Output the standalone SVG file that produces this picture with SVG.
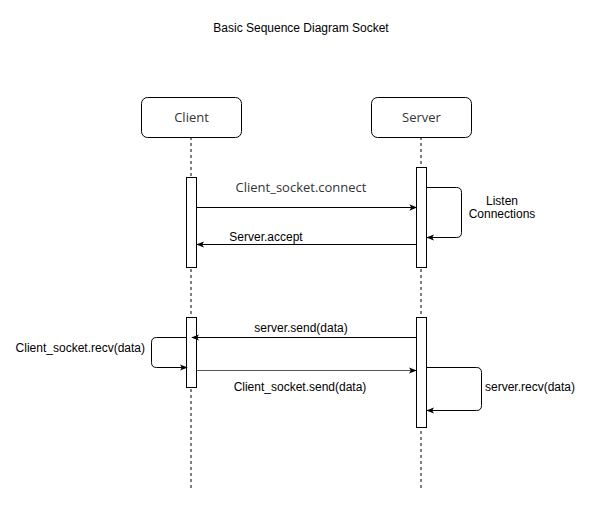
<svg xmlns="http://www.w3.org/2000/svg" width="616" height="511" viewBox="0 0 616 511">
<defs>
<marker id="arr" viewBox="0 0 10 10" refX="9" refY="5" markerWidth="8" markerHeight="8" markerUnits="userSpaceOnUse" orient="auto">
<path d="M0,1 L10,5 L0,9 L2.5,5 Z" fill="#000"/>
</marker>
<style>
.box{fill:#fff;stroke:#000;stroke-width:1}
.life{stroke:#000;stroke-width:1;stroke-dasharray:3 3;fill:none}
.act{fill:#fff;stroke:#000;stroke-width:1}
.msg{stroke:#000;stroke-width:1;fill:none;marker-end:url(#arr)}
.t1{font-family:"Open Sans","DejaVu Sans",sans-serif;font-size:13px;fill:#333}
.t2{font-family:"Liberation Sans",Arial,sans-serif;font-size:12px;fill:#000}
</style>
</defs>
<rect width="616" height="511" fill="#fff"/>
<text class="t2" x="301" y="32" text-anchor="middle">Basic Sequence Diagram Socket</text>
<g id="lifelines">
<line class="life" x1="191" y1="137" x2="191" y2="490"/>
<line class="life" x1="421" y1="137" x2="421" y2="490"/>
</g>
<g id="client">
<rect class="box" x="141.5" y="97.5" width="100" height="40" rx="6"/>
<text class="t1" x="191.5" y="122" text-anchor="middle">Client</text>
</g>
<g id="server">
<rect class="box" x="371.5" y="97.5" width="100" height="40" rx="6"/>
<text class="t1" x="421.5" y="122" text-anchor="middle">Server</text>
</g>
<g id="activations">
<rect class="act" x="186.5" y="177.5" width="10" height="90"/>
<rect class="act" x="416.5" y="167.5" width="10" height="100"/>
<rect class="act" x="186.5" y="317.5" width="10" height="70"/>
<rect class="act" x="416.5" y="317.5" width="10" height="110"/>
</g>
<g id="connectors">
<line class="msg" x1="196.5" y1="207.5" x2="416.5" y2="207.5"/>
<path class="msg" d="M426.5,187.5 H456.5 Q461.5,187.5 461.5,192.5 V232.5 Q461.5,237.5 456.5,237.5 H427"/>
<line class="msg" x1="416.5" y1="244.5" x2="197" y2="244.5"/>
<line class="msg" x1="416.5" y1="337.5" x2="192" y2="337.5"/>
<path class="msg" d="M186.5,337.5 H156.5 Q151.5,337.5 151.5,342.5 V362.5 Q151.5,367.5 156.5,367.5 H187"/>
<line class="msg" x1="197" y1="370.5" x2="416" y2="370.5" style="stroke:#555"/>
<path class="msg" d="M426.5,367.5 H476.5 Q481.5,367.5 481.5,372.5 V405.5 Q481.5,410.5 476.5,410.5 H427"/>
</g>
<g id="labels">
<text class="t1" x="301" y="192" text-anchor="middle">Client_socket.connect</text>
<text class="t2" x="502" y="205" text-anchor="middle">Listen</text>
<text class="t2" x="502" y="218" text-anchor="middle">Connections</text>
<text class="t2" x="266" y="241" text-anchor="middle">Server.accept</text>
<text class="t2" x="301" y="332" text-anchor="middle">server.send(data)</text>
<text class="t2" x="145" y="352" text-anchor="end">Client_socket.recv(data)</text>
<text class="t2" x="300" y="391" text-anchor="middle">Client_socket.send(data)</text>
<text class="t2" x="485" y="391">server.recv(data)</text>
</g>
</svg>
